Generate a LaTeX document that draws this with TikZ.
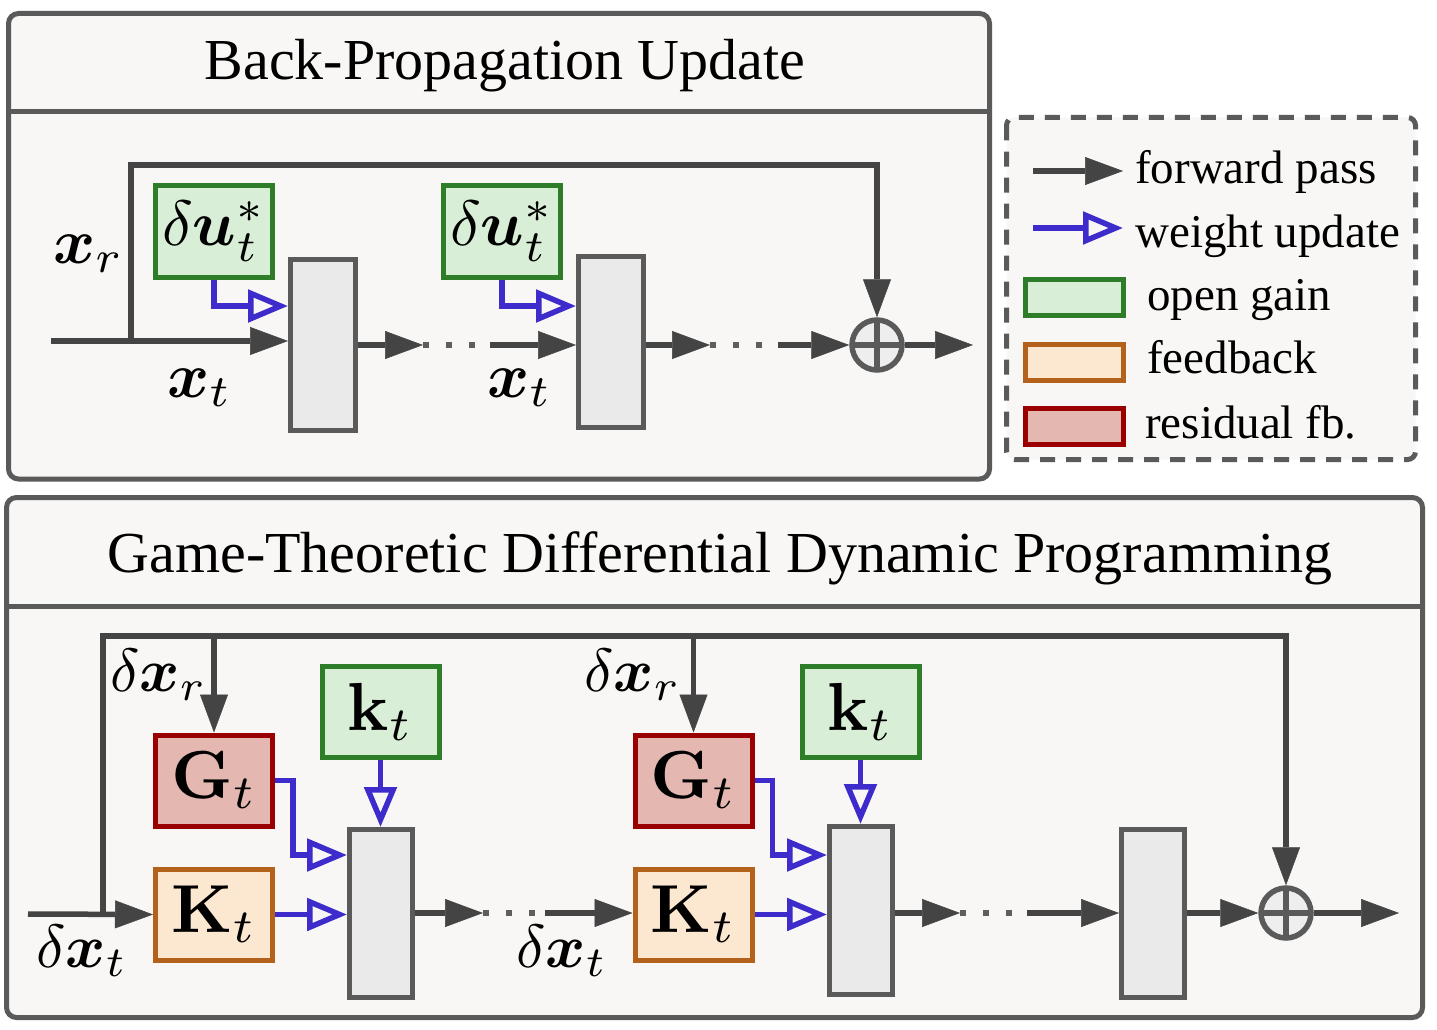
\documentclass[tikz,border=0pt]{standalone}
\usepackage{amsmath}
\usepackage{bm}
\usepackage{graphicx}
\usepackage[no-math]{fontspec}
\setmainfont{Liberation Serif}
\usetikzlibrary{arrows.meta,calc}
\newcommand{\mlarge}[1]{\scalebox{6.4}{$#1$}}
\newcommand{\mmid}[1]{\scalebox{6.1}{$#1$}}
\newcommand{\mhuge}[1]{\scalebox{6.8}{$#1$}}
\definecolor{arrowgray}{HTML}{444444}
\definecolor{bordergray}{HTML}{5A5A5A}
\definecolor{dotgray}{HTML}{5E5E5E}
\definecolor{panelbg}{HTML}{F8F7F5}
\definecolor{blockfill}{HTML}{EAEAEA}
\definecolor{sumfill}{HTML}{EEEEEE}
\definecolor{greenB}{HTML}{2E7D28}
\definecolor{greenF}{HTML}{D9EED7}
\definecolor{orangeB}{HTML}{B4621B}
\definecolor{orangeF}{HTML}{FCE8D0}
\definecolor{redB}{HTML}{9A0000}
\definecolor{redF}{HTML}{E5B7B1}
\definecolor{blueA}{HTML}{3D2BCC}
\begin{document}
\begin{tikzpicture}[x=1pt,y=-1pt,
  panel/.style={draw=bordergray, line width=5pt, fill=panelbg, rounded corners=10pt},
  headline/.style={draw=bordergray, line width=5pt},
  legendbox/.style={draw=bordergray, line width=5pt, fill=panelbg, rounded corners=8pt, dash pattern=on 15pt off 11pt},
  blockbox/.style={draw=bordergray, fill=blockfill, line width=5pt, minimum width=65pt, minimum height=171pt, inner sep=0pt},
  smallblock/.style={blockbox, minimum width=63pt, minimum height=168pt},
  gainbox/.style={draw=greenB, fill=greenF, line width=5pt, minimum width=117pt, minimum height=92pt, inner sep=0pt, font=\normalsize},
  fbbox/.style={draw=orangeB, fill=orangeF, line width=5pt, minimum width=117pt, minimum height=91pt, inner sep=0pt, font=\normalsize},
  resbox/.style={draw=redB, fill=redF, line width=5pt, minimum width=117pt, minimum height=91pt, inner sep=0pt, font=\normalsize},
  legsw/.style={line width=4.5pt, minimum width=98pt, minimum height=36pt, inner sep=0pt},
  sumnode/.style={circle, draw=bordergray, fill=sumfill, line width=5.5pt, minimum size=50pt, inner sep=0pt,
    path picture={\draw[line width=5.5pt, draw=bordergray] (path picture bounding box.north) -- (path picture bounding box.south) (path picture bounding box.west) -- (path picture bounding box.east);}},
  fwd/.style={draw=arrowgray, line width=5.5pt, -{Triangle[length=38pt,width=28pt,line width=0.5pt]}},
  upd/.style={draw=blueA, line width=5.5pt, -{Triangle[open,length=40pt,width=32pt]}},
  dotline/.style={draw=dotgray, line width=5.5pt, dash pattern=on 6pt off 17pt},
  titletext/.style={inner sep=0pt, anchor=base, font=\fontsize{58}{62}\selectfont},
  legtext/.style={inner sep=0pt, anchor=base west, font=\fontsize{47}{50}\selectfont},
  mlbl/.style={inner sep=0pt, anchor=base west, font=\normalsize}
]
\useasboundingbox (0,0) rectangle (1437,1030);

% ---------------- top panel ----------------
\draw[panel] (8.5,13.5) rectangle (989.5,479);
\draw[headline] (8.5,111.5) -- (989.5,111.5);
\node[titletext] (t1) at (505,80) {Back-Propagation Update};

\node[gainbox] (du1) at (214,231.5) {\mlarge{\delta\bm{u}_t^*}};
\node[gainbox] (du2) at (502,231.5) {\mlarge{\delta\bm{u}_t^*}};
\node[blockbox] (tb1) at (323,345) {};
\node[blockbox] (tb2) at (611,342) {};
\node[sumnode] (ts) at (877,345) {};

\coordinate (tin) at (51,341);
\coordinate (tbr) at (131,341);
\coordinate (ttop) at (131,165);
\coordinate (ta1) at (423,345);
\coordinate (ta2) at (490,345);
\coordinate (ta3) at (710,345);
\coordinate (ta4) at (778,345);
\coordinate (tout) at (973,345);

\draw[fwd] (tin) -- (tin -| tb1.west);
\draw[fwd] (tbr) |- (ts |- ttop) -- (ts.north);
\draw[fwd] (tb1.east) -- (ta1);
\draw[dotline] (ta1) -- (ta2);
\draw[fwd] (ta2) -- (ta2 -| tb2.west);
\draw[fwd] (ta3 -| tb2.east) -- (ta3);
\draw[dotline] (ta3) -- (ta4);
\draw[fwd] (ta4) -- (ts.west);
\draw[fwd] (ts.east) -- (tout);

\draw[upd] (du1.south) |- (tb1.west |- 0,306);
\draw[upd] (du2.south) |- (tb2.west |- 0,306);

\node[mlbl] (lxr) at (53,263) {\mlarge{\bm{x}_r}};
\node[mlbl] (lxt1) at (167,397) {\mlarge{\bm{x}_t}};
\node[mlbl] (lxt2) at (487,397) {\mlarge{\bm{x}_t}};

% ---------------- legend ----------------
\draw[legendbox] (1006.5,117.5) rectangle (1415.5,459.5);
\coordinate (lf1) at (1033,171);
\coordinate (lf2) at (1123,171);
\coordinate (lu1) at (1033,228);
\coordinate (lu2) at (1123,228);
\draw[fwd] (lf1) -- (lf2);
\draw[upd] (lu1) -- (lu2);
\node[legtext] (lt1) at (1135,183) {forward pass};
\node[legtext] (lt2) at (1135,247) {weight update};
\node[legsw, draw=greenB, fill=greenF] (lg) at (1074.5,297.5) {};
\node[legsw, draw=orangeB, fill=orangeF] (lo) at (1074.5,362.5) {};
\node[legsw, draw=redB, fill=redF] (lr) at (1074.5,426.5) {};
\node[legtext] (lt3) at (1147,310) {open gain};
\node[legtext] (lt4) at (1147,373) {feedback};
\node[legtext] (lt5) at (1145,438) {residual fb.};

% ---------------- bottom panel ----------------
\draw[panel] (6.5,497.5) rectangle (1422.5,1017.5);
\draw[headline] (6.5,606.5) -- (1422.5,606.5);
\node[titletext] (t2) at (720,572) {Game-Theoretic Differential Dynamic Programming};

\node[resbox] (G1) at (214,780.5) {\mhuge{\mathbf{G}_t}};
\node[fbbox] (K1) at (214,914.5) {\mhuge{\mathbf{K}_t}};
\node[gainbox, minimum height=91pt] (k1) at (380.5,712) {\mhuge{\mathbf{k}_t}};
\node[smallblock] (bb1) at (381,913.5) {};
\node[resbox] (G2) at (693.5,780.5) {\mhuge{\mathbf{G}_t}};
\node[fbbox] (K2) at (693.5,914.5) {\mhuge{\mathbf{K}_t}};
\node[gainbox, minimum height=91pt] (k2) at (860.5,712) {\mhuge{\mathbf{k}_t}};
\node[smallblock] (bb2) at (861,910.5) {};
\node[smallblock] (bb3) at (1153,913.5) {};
\node[sumnode] (bs) at (1286,913) {};

\coordinate (bin) at (28,914);
\coordinate (bbr) at (103,914);
\coordinate (btop) at (103,636);
\coordinate (ba1) at (483,913);
\coordinate (ba2) at (545,913);
\coordinate (ba3) at (960,913);
\coordinate (ba4) at (1027,913);
\coordinate (bout) at (1399,913);

\draw[fwd] (bin) -- (K1.west);
\draw[fwd] (bbr) -- (btop) -| (bs.north);
\draw[fwd] (G1.north |- btop) -- (G1.north);
\draw[fwd] (G2.north |- btop) -- (G2.north);

\draw[fwd] (ba1 -| bb1.east) -- (ba1);
\draw[dotline] (ba1) -- (ba2);
\draw[fwd] (ba2) -- (ba2 -| K2.west);
\draw[fwd] (ba3 -| bb2.east) -- (ba3);
\draw[dotline] (ba3) -- (ba4);
\draw[fwd] (ba4) -- (ba4 -| bb3.west);
\draw[fwd] (bb3.east |- bs) -- (bs.west);
\draw[fwd] (bs.east) -- (bout);

\draw[upd] (G1.east) -- ++(18,0) |- (bb1.west |- 0,855);
\draw[upd] (K1.east) -- (K1.east -| bb1.west);
\draw[upd] (k1.south) -- (k1.south |- bb1.north);
\draw[upd] (G2.east) -- ++(18,0) |- (bb2.west |- 0,855);
\draw[upd] (K2.east) -- (K2.east -| bb2.west);
\draw[upd] (k2.south) -- (k2.south |- bb2.north);

\node[mlbl] (ldxr1) at (110,691) {\mmid{\delta\bm{x}_r}};
\node[mlbl] (ldxr2) at (584,691) {\mmid{\delta\bm{x}_r}};
\node[mlbl] (ldxt1) at (36,967) {\mmid{\delta\bm{x}_t}};
\node[mlbl] (ldxt2) at (516,967) {\mmid{\delta\bm{x}_t}};
\end{tikzpicture}
\end{document}
